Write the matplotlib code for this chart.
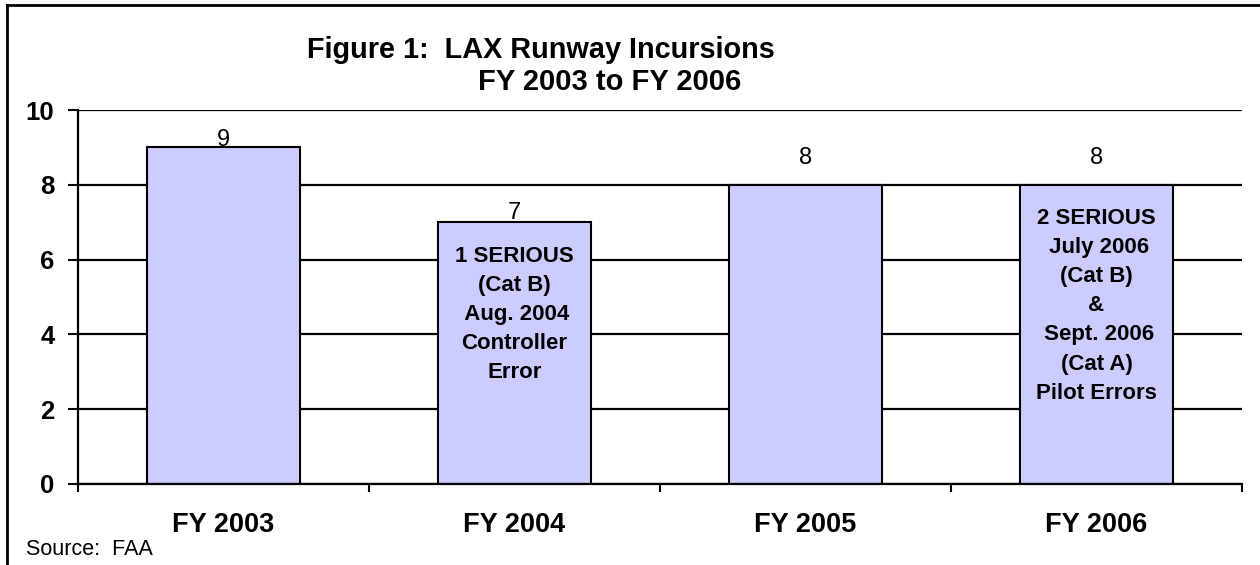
import matplotlib
matplotlib.use("Agg")
import matplotlib.pyplot as plt
from matplotlib.lines import Line2D

plt.rcParams['font.family'] = ['Liberation Sans', 'DejaVu Sans']

# data
years = ["FY 2003", "FY 2004", "FY 2005", "FY 2006"]
incursions = [9, 7, 8, 8]
notes = [
    "",
    "1 SERIOUS\n(Cat B)\n Aug. 2004\nController\nError",
    "",
    "2 SERIOUS\n July 2006\n(Cat B)\n&\n Sept. 2006\n(Cat A)\nPilot Errors",
]
y_ticks = [0, 2, 4, 6, 8, 10]

# offsets (points) for the value labels and notes
label_offsets = [-2.8, -1, 11.5, 11.5]
note_offsets = [0, -17, 0, -16.5]

fig = plt.figure(figsize=(12.6, 5.65), dpi=100)
ax = fig.add_axes([0.0619, 0.1434, 0.9238, 0.6619])

x = list(range(len(years)))
bars = ax.bar(x, incursions, width=0.526, color="#CCCCFF", edgecolor="black",
              linewidth=1.5, zorder=3)

ax.set_xlim(-0.5, len(years) - 0.5)
ax.set_ylim(0, 10)
ax.set_yticks(y_ticks)
ax.set_yticklabels([str(t) for t in y_ticks], fontsize=18.5, fontweight="bold")
ax.yaxis.grid(True, color="black", linewidth=1.6, zorder=0)
ax.tick_params(axis="y", direction="out", length=7, width=1.5, pad=10)

# category boundaries get the tick marks, names sit at the centres
ax.set_xticks([i - 0.5 for i in range(len(years) + 1)])
ax.set_xticklabels([])
ax.tick_params(axis="x", which="major", direction="out", length=6, width=1.5)
ax.set_xticks(x, minor=True)
ax.set_xticklabels(years, minor=True, fontsize=19.5, fontweight="bold")
ax.tick_params(axis="x", which="minor", length=0, pad=20)

for side in ["top", "right"]:
    ax.spines[side].set_visible(False)
for side in ["left", "bottom"]:
    ax.spines[side].set_linewidth(1.6)
    ax.spines[side].set_zorder(4)

for i, (v, off) in enumerate(zip(incursions, label_offsets)):
    ax.annotate(str(v), xy=(i, v), xytext=(0, off), textcoords="offset points",
                ha="center", va="bottom", fontsize=17)

for i, (v, note, off) in enumerate(zip(incursions, notes, note_offsets)):
    if note:
        ax.annotate(note, xy=(i, v), xytext=(0, off), textcoords="offset points",
                    ha="center", va="top", fontsize=16, fontweight="bold",
                    linespacing=1.51, zorder=5)

fig.text(541 / 1260, 1 - 58 / 565, "Figure 1:  LAX Runway Incursions",
         ha="center", va="baseline", fontsize=20.8, fontweight="bold")
fig.text(610 / 1260, 1 - 90 / 565, "FY 2003 to FY 2006",
         ha="center", va="baseline", fontsize=21, fontweight="bold")
fig.text(26 / 1260, 1 - 555 / 565, "Source:  FAA", ha="left", va="baseline",
         fontsize=15.5)

# chart area frame (left and top edges visible)
fig.add_artist(Line2D([7 / 1260, 7 / 1260], [0, 1 - 5 / 565], color="black",
                      linewidth=2, transform=fig.transFigure))
fig.add_artist(Line2D([7 / 1260, 1], [1 - 5 / 565, 1 - 5 / 565], color="black",
                      linewidth=2, transform=fig.transFigure))

fig.savefig("out.png", dpi=100)
